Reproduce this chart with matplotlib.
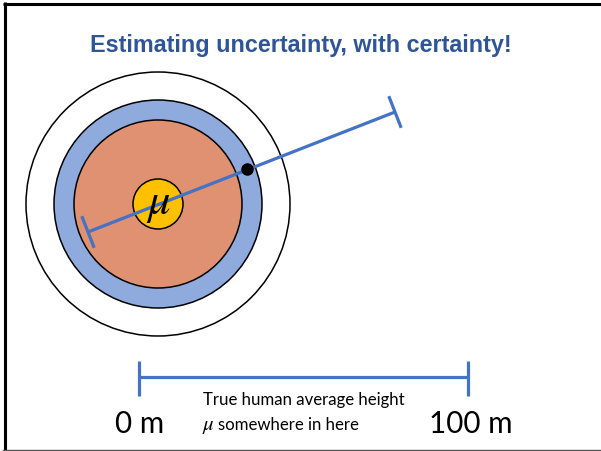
import numpy as np
import matplotlib
matplotlib.use('Agg')
import matplotlib.pyplot as plt
from matplotlib.patches import Circle

plt.rcParams['mathtext.fontset'] = 'stix'

# 目标靶：圆心与各圈半径（像素单位）
center = (158, 205)
ring_radii = [132, 104, 84, 25]
ring_colors = ['white', '#8FAADC', '#E09172', '#FFC000']

# 估计区间（带端帽的线段）与点估计
interval_ends = [(88, 233), (395, 113)]
point_est = (247, 170)
cap_len = 34

# 底部标尺
scale_x = [139, 468]
scale_y = 378
scale_labels = ['0 m', '100 m']
scale_label_x = [140, 471]

title = 'Estimating uncertainty, with certainty!'
note_lines = ['True human average height', 'somewhere in here']

blue = '#4472C4'

fig = plt.figure(figsize=(6.01, 4.52), dpi=100)
ax = fig.add_axes([0, 0, 1, 1])
ax.set_xlim(0, 601)
ax.set_ylim(452, 0)
ax.axis('off')

# 边框
ax.plot([4.5, 4.5], [3, 452], color='black', lw=2.2, solid_capstyle='butt')
ax.plot([3, 601], [4.5, 4.5], color='black', lw=2.2, solid_capstyle='butt')
ax.plot([3, 601], [450.5, 450.5], color='#555555', lw=1.0)

# 同心圆
for r, c in zip(ring_radii, ring_colors):
    ax.add_patch(Circle(center, r, facecolor=c, edgecolor='black', lw=1.1, zorder=2))

# 区间线段及端帽
p0 = np.array(interval_ends[0], dtype=float)
p1 = np.array(interval_ends[1], dtype=float)
d = (p1 - p0) / np.linalg.norm(p1 - p0)
n = np.array([-d[1], d[0]])
ax.plot([p0[0], p1[0]], [p0[1], p1[1]], color=blue, lw=2.3, zorder=4, solid_capstyle='butt')
for p in (p0, p1):
    a = p - n * cap_len / 2
    b = p + n * cap_len / 2
    ax.plot([a[0], b[0]], [a[1], b[1]], color=blue, lw=2.3, zorder=4, solid_capstyle='butt')
ax.plot(point_est[0], point_est[1], 'o', color='black', markersize=8, zorder=5)

ax.text(center[0], center[1] - 1, r'$\mu$', fontsize=32, ha='center', va='center', zorder=6)

# 标尺
ax.plot(scale_x, [scale_y, scale_y], color=blue, lw=2.3, solid_capstyle='butt')
for x in scale_x:
    ax.plot([x, x], [scale_y - 16, scale_y + 19], color=blue, lw=2.3, solid_capstyle='butt')
for x, lab in zip(scale_label_x, scale_labels):
    ax.text(x, 433, lab, fontsize=21.3, family='Lato', ha='center', va='baseline')

ax.text(203, 405, note_lines[0], fontsize=12.1, family='Lato', ha='left', va='baseline')
ax.text(202, 430, r'$\mu$', fontsize=15, ha='left', va='baseline')
ax.text(218, 430, note_lines[1], fontsize=12.1, family='Lato', ha='left', va='baseline')

ax.text(301, 52, title, fontsize=16.8, family='Liberation Sans', weight='bold',
        color='#2F5597', ha='center', va='baseline')

fig.savefig('out.png', dpi=100)
